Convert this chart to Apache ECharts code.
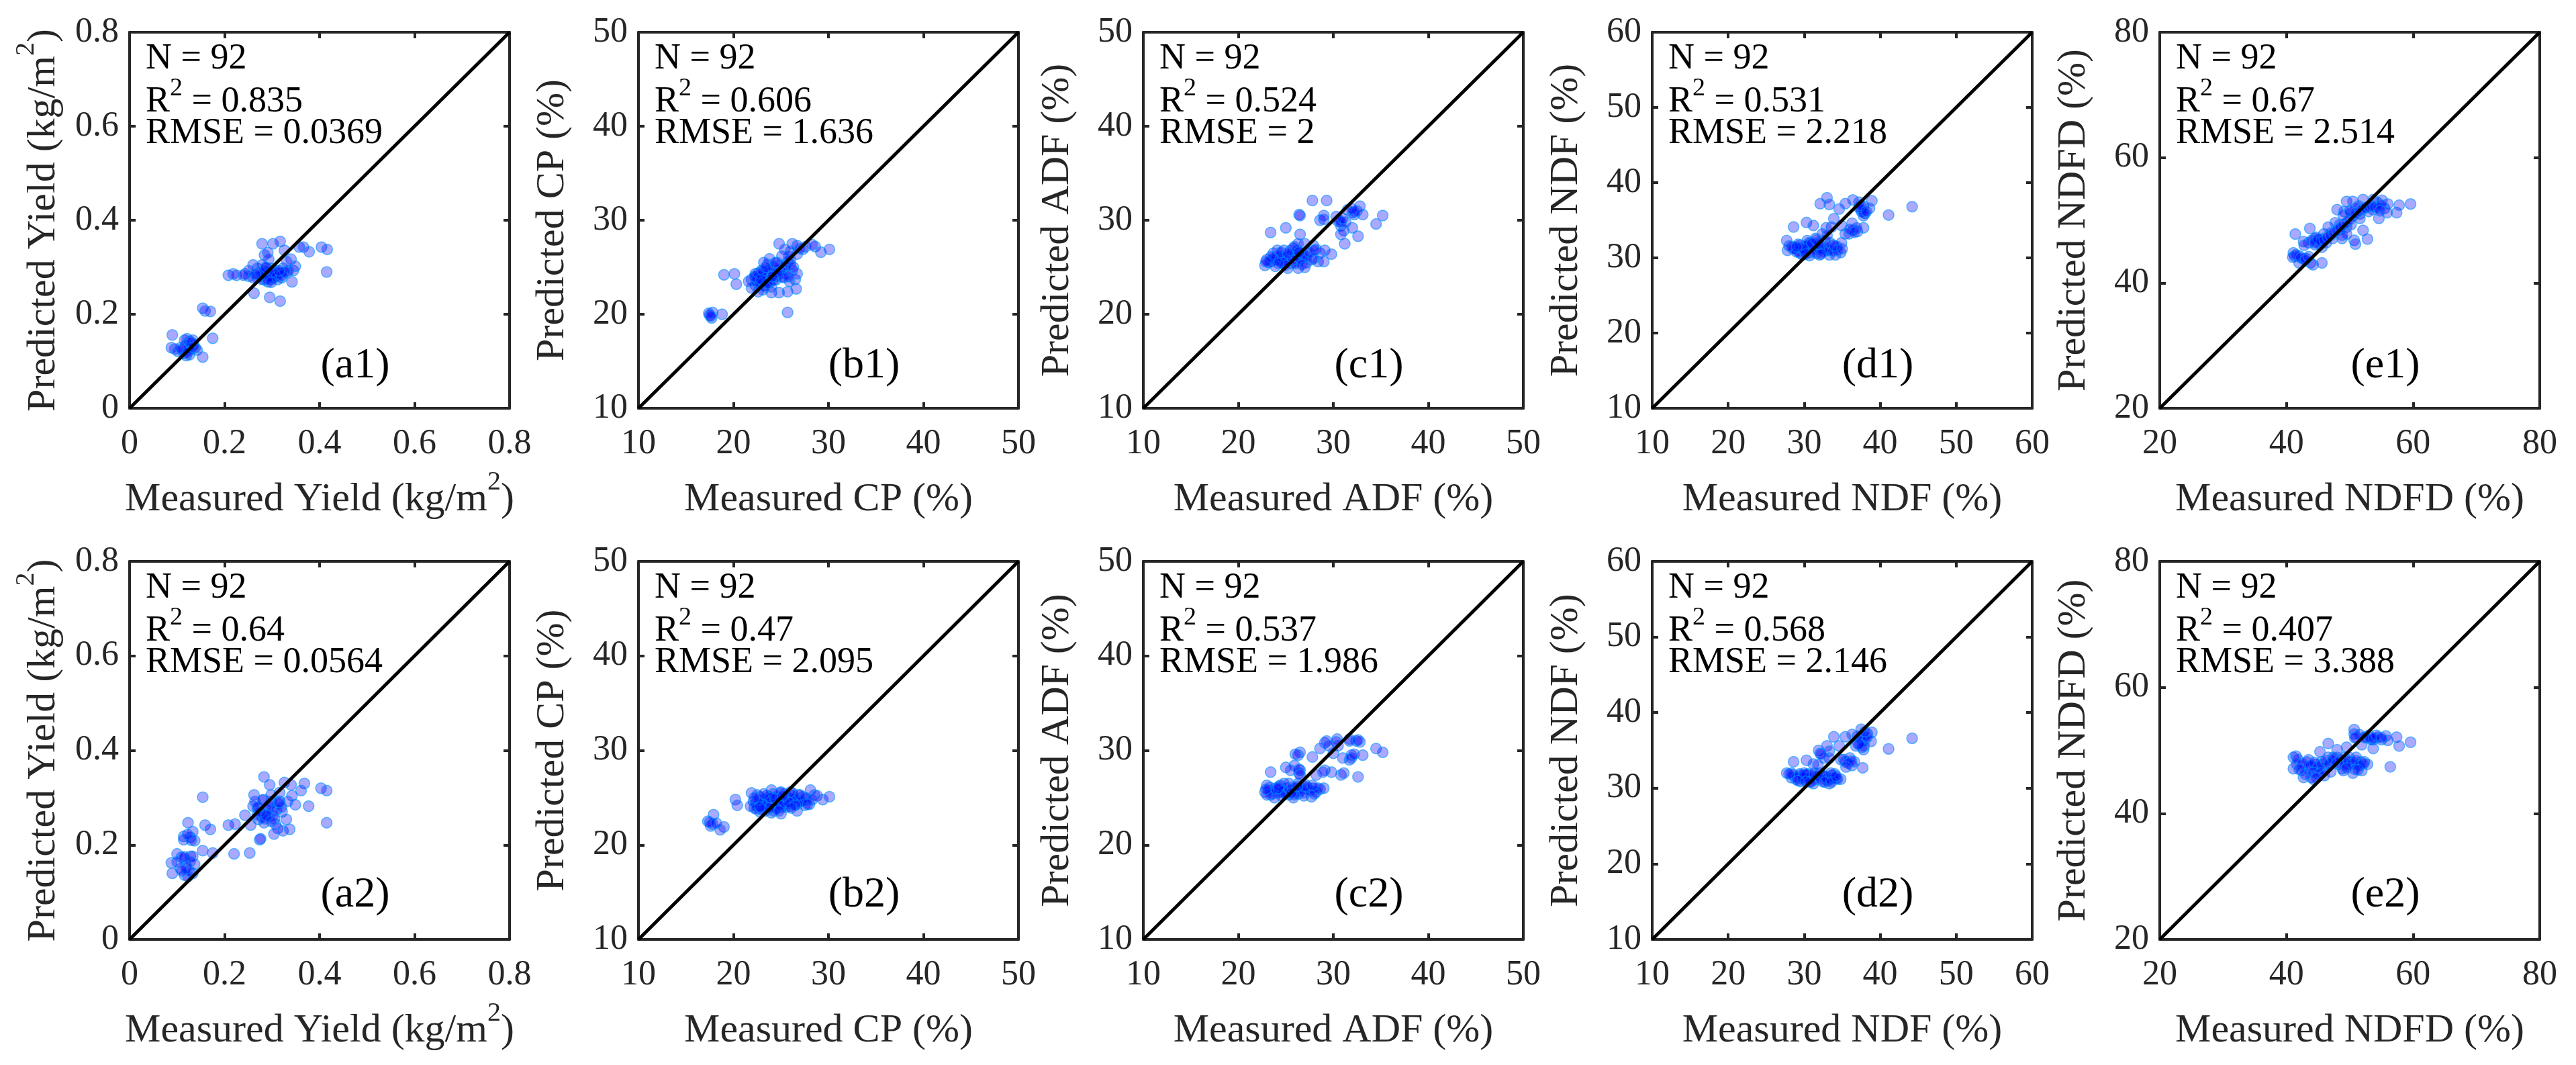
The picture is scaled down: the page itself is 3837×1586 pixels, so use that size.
<!DOCTYPE html>
<html>
<head>
<meta charset="utf-8">
<script src="https://cdn.jsdelivr.net/npm/echarts@6/dist/echarts.min.js"></script>
<style>
  html, body { margin: 0; padding: 0; background: #fff; }
  #chart { width: 3837px; height: 1586px; }
</style>
</head>
<body>
<div id="chart"></div>
<script>
// [measured, predicted] pairs. row 1 = "1" panels, row 2 = "2" panels
const yield1 = [
  [0.090,0.156],[0.088,0.129],[0.095,0.126],[0.102,0.121],[0.114,0.117],[0.119,0.112],
  [0.116,0.145],[0.121,0.148],[0.126,0.143],[0.133,0.145],[0.135,0.136],[0.138,0.129],
  [0.142,0.124],[0.128,0.126],[0.107,0.129],[0.126,0.114],[0.154,0.109],[0.175,0.149],
  [0.154,0.213],[0.159,0.207],[0.170,0.206],[0.208,0.283],[0.218,0.286],[0.225,0.283],
  [0.243,0.286],[0.251,0.281],[0.260,0.305],[0.262,0.245],[0.269,0.298],[0.269,0.278],
  [0.279,0.350],[0.284,0.274],[0.284,0.326],[0.291,0.331],[0.295,0.236],[0.302,0.350],
  [0.317,0.355],[0.317,0.228],[0.288,0.288],[0.298,0.283],[0.307,0.293],[0.317,0.288],
  [0.321,0.278],[0.326,0.336],[0.331,0.288],[0.340,0.317],[0.342,0.269],[0.345,0.293],
  [0.349,0.302],[0.357,0.343],[0.366,0.343],[0.378,0.333],[0.404,0.343],[0.416,0.338],
  [0.415,0.290],[0.274,0.283],[0.279,0.274],[0.288,0.298],[0.302,0.278],[0.312,0.274],
  [0.323,0.298],[0.335,0.293],[0.260,0.278],[0.251,0.293],[0.293,0.317],[0.279,0.305],
  [0.312,0.288],[0.331,0.312],[0.298,0.274],[0.291,0.269],[0.298,0.298],
  [0.118,0.135],[0.125,0.128],[0.130,0.140],[0.110,0.125],[0.122,0.118],[0.135,0.130],
  [0.280,0.285],[0.295,0.280],[0.305,0.285],[0.285,0.293],[0.310,0.280],[0.300,0.290],
  [0.275,0.290],[0.290,0.275],[0.320,0.282],[0.265,0.285],[0.298,0.268],[0.327,0.290],
  [0.287,0.300],[0.240,0.283],[0.315,0.293]
];
const yield2 = [
  [0.090,0.140],[0.088,0.162],[0.100,0.181],[0.116,0.171],[0.116,0.136],[0.119,0.155],
  [0.128,0.176],[0.133,0.176],[0.133,0.140],[0.123,0.133],[0.137,0.159],[0.154,0.188],
  [0.175,0.183],[0.114,0.218],[0.123,0.247],[0.128,0.216],[0.133,0.228],[0.137,0.209],
  [0.159,0.242],[0.170,0.233],[0.154,0.301],[0.109,0.174],[0.107,0.150],[0.126,0.145],
  [0.100,0.164],[0.114,0.211],[0.208,0.242],[0.222,0.244],[0.220,0.181],[0.253,0.183],
  [0.243,0.263],[0.255,0.242],[0.274,0.211],[0.276,0.213],[0.283,0.344],[0.295,0.327],
  [0.326,0.332],[0.340,0.327],[0.368,0.330],[0.361,0.315],[0.403,0.320],[0.415,0.315],
  [0.415,0.247],[0.377,0.282],[0.349,0.285],[0.342,0.304],[0.262,0.306],[0.260,0.282],
  [0.269,0.278],[0.279,0.259],[0.289,0.263],[0.282,0.296],[0.298,0.292],[0.312,0.287],
  [0.316,0.292],[0.321,0.270],[0.330,0.254],[0.307,0.244],[0.312,0.235],[0.304,0.223],
  [0.323,0.230],[0.337,0.233],[0.302,0.263],[0.292,0.282],[0.271,0.254],[0.283,0.247],
  [0.264,0.292],[0.316,0.311],[0.333,0.292],[0.269,0.263],[0.298,0.306],
  [0.120,0.150],[0.110,0.145],[0.128,0.165],[0.115,0.175],[0.130,0.210],[0.122,0.222],
  [0.280,0.265],[0.290,0.275],[0.300,0.270],[0.285,0.255],[0.295,0.285],[0.310,0.275],
  [0.275,0.270],[0.305,0.255],[0.320,0.280],[0.288,0.262],[0.298,0.250],[0.315,0.290],
  [0.270,0.280],[0.280,0.295]
];
const cp1 = [
  [17.5,19.9],[17.8,20.2],[17.7,19.6],[18.8,20.0],[17.4,20.1],[19.0,24.2],[20.1,24.3],
  [20.3,23.2],[25.7,20.2],[24.8,27.5],[26.2,27.5],[26.7,27.3],[27.6,27.2],[28.6,27.2],
  [29.2,26.6],[30.1,26.9],[25.4,26.9],[25.1,26.2],[25.7,25.6],[26.7,26.4],[23.8,25.9],
  [23.6,25.3],[23.2,25.5],[23.0,24.7],[22.4,24.0],[21.9,23.7],[22.3,23.1],[21.9,22.8],
  [22.6,22.4],[22.9,23.5],[23.5,24.0],[24.2,24.3],[24.8,24.7],[25.4,25.0],[26.0,25.3],
  [26.2,24.7],[25.5,24.3],[25.1,24.0],[24.5,23.7],[23.8,23.4],[23.2,23.1],[22.6,23.2],
  [23.1,22.6],[24.0,22.3],[24.8,22.3],[25.7,22.4],[26.6,22.7],[26.5,23.7],[25.9,23.5],
  [24.0,22.9],[21.6,23.5],[22.3,24.3],[24.2,25.0],[24.6,25.5],[26.0,26.7],[27.3,26.9],
  [28.3,27.4],[23.7,23.5],[22.9,24.0],[22.4,23.5],[24.9,24.3],[26.7,24.3],
  [22.5,23.8],[23.0,24.2],[23.5,23.9],[24.0,24.5],[24.5,24.0],[22.8,23.3],[23.3,22.9],
  [24.2,23.6],[25.0,24.6],[25.5,25.2],[22.2,24.0],[23.8,24.8],[24.8,25.2],[25.3,23.9],
  [23.6,23.3],[22.6,24.4],[26.0,25.8],[25.8,26.2],[17.6,19.8],[24.4,25.5],[23.1,24.6],
  [22.9,23.7],[24.6,24.4],[25.8,24.0],[23.4,25.0],[24.1,24.0],[26.3,25.0],[27.0,27.0]
];
const cp2 = [
  [17.3,22.5],[17.9,23.2],[17.6,22.0],[19.0,21.9],[18.6,21.6],[17.8,22.2],[20.2,24.8],
  [20.4,24.2],[21.9,25.5],[22.2,23.9],[22.1,24.6],[22.5,25.3],[22.5,24.1],[22.8,23.5],
  [23.2,24.8],[24.0,25.8],[23.7,24.1],[24.0,23.4],[24.2,24.8],[24.7,24.3],[24.9,25.5],
  [25.1,24.0],[25.6,25.1],[25.9,24.1],[26.2,25.5],[26.6,24.3],[26.7,23.6],[26.8,25.3],
  [27.3,25.1],[27.5,24.2],[27.7,24.8],[28.1,25.8],[28.5,25.3],[28.8,25.2],[29.4,24.8],
  [30.1,25.1],[23.0,24.2],[23.5,24.5],[24.6,25.1],[25.4,24.6],[26.1,24.7],[27.0,24.6],
  [28.0,24.3],[21.8,24.1],[22.8,25.1],[23.8,25.1],[25.3,25.4],[25.0,23.3],[24.2,23.6],
  [23.4,23.6],
  [22.3,24.4],[22.6,24.8],[23.0,24.5],[23.3,24.0],[23.6,24.6],[24.0,24.4],[24.3,24.0],
  [24.6,24.6],[25.0,24.8],[25.3,24.3],[25.7,24.9],[26.0,24.4],[26.4,24.9],[26.8,24.5],
  [27.2,24.6],[22.4,23.8],[23.0,23.7],[24.5,23.8],[25.5,24.0],[26.3,25.2],[27.6,25.0],
  [22.2,25.0],[23.5,25.2],[24.2,25.4],[25.0,25.6],[26.0,25.6],[27.0,25.3],[28.3,24.8],
  [17.5,22.4],[18.2,22.3],[23.8,23.9],[24.9,24.2],[25.8,24.5],[22.8,24.0],[23.9,25.0],
  [24.4,24.9],[26.5,24.2],[27.8,24.3],[23.2,25.4],[24.8,23.6],[25.2,25.2],[26.1,23.9]
];
const adf1 = [
  [23.4,28.7],[25.0,29.2],[26.5,28.5],[26.4,30.6],[26.5,30.5],[27.8,32.1],[29.3,32.1],
  [28.6,30.0],[29.0,30.5],[29.0,30.1],[30.3,30.4],[30.5,29.9],[30.8,29.4],[31.1,28.9],
  [30.8,28.5],[31.2,27.5],[31.5,31.1],[32.0,30.8],[32.2,30.6],[32.8,31.5],[33.1,30.6],
  [32.0,29.2],[32.6,28.3],[34.5,29.6],[35.2,30.5],[23.0,25.8],[22.8,25.2],[23.4,25.6],
  [23.7,26.5],[23.9,25.8],[24.4,26.1],[24.6,25.5],[24.8,26.8],[25.2,24.9],[25.3,26.1],
  [25.8,27.0],[26.0,26.3],[26.3,25.6],[26.3,24.9],[26.7,26.0],[27.0,27.5],[27.2,26.5],
  [27.7,25.8],[27.9,27.3],[28.4,25.6],[28.6,26.5],[29.0,25.6],[29.1,26.8],[29.8,26.4],
  [26.3,27.5],[24.1,26.8],[25.6,25.4],[27.2,25.5],[28.2,26.9],[24.8,25.4],[23.9,25.1],
  [26.5,26.5],[26.0,25.4],
  [23.2,25.5],[23.6,25.9],[24.0,26.2],[24.3,25.7],[24.7,26.0],[25.0,25.6],[25.4,26.3],
  [25.7,25.8],[26.1,26.2],[26.5,25.9],[26.8,26.4],[27.2,26.1],[27.5,26.6],[24.5,26.6],
  [25.5,26.8],[26.2,26.8],[23.4,26.1],[24.9,25.2],[26.7,25.3],[27.9,25.9],[30.6,30.0],
  [30.8,29.8],[32.2,30.9],[32.5,31.0],[31.3,29.8],[25.9,27.2],[28.0,26.8],[24.2,25.4],
  [26.4,26.6],[22.9,25.6],[27.0,25.0],[25.2,26.5],[31.0,30.2],[32.0,31.2]
];
const adf2 = [
  [23.4,27.7],[25.0,28.2],[26.5,29.8],[26.3,29.5],[26.5,27.9],[26.4,27.6],[25.9,28.4],
  [27.8,29.3],[28.6,30.2],[29.1,30.8],[29.3,31.0],[30.4,31.2],[30.0,29.7],[30.5,30.5],
  [31.7,31.2],[32.4,31.0],[32.8,30.9],[31.0,29.2],[31.7,29.0],[31.9,29.5],[33.1,29.5],
  [34.5,30.2],[35.2,29.8],[28.2,27.4],[29.1,27.9],[29.8,27.7],[30.8,27.4],[31.1,27.6],
  [32.6,27.2],[23.0,26.3],[22.8,25.6],[23.4,25.3],[23.8,25.0],[23.9,26.0],[24.4,26.3],
  [24.6,25.6],[25.1,26.0],[25.3,25.3],[25.8,25.0],[26.0,26.0],[26.3,25.4],[26.6,25.8],
  [27.0,26.4],[27.3,25.9],[27.7,25.1],[28.2,25.6],[28.6,25.9],[29.0,26.0],[27.9,26.0],
  [24.8,26.5],[25.3,26.5],[24.1,25.5],[26.3,26.5],[26.9,25.2],[23.3,26.1],
  [23.2,25.8],[23.6,25.4],[24.0,25.9],[24.3,26.2],[24.7,25.7],[25.0,25.4],[25.4,25.8],
  [25.7,26.1],[26.1,25.6],[26.5,25.9],[26.9,25.5],[27.3,26.1],[27.6,25.7],[28.0,25.4],
  [23.0,25.3],[24.5,25.2],[25.9,25.3],[27.0,26.2],[28.4,26.0],[26.4,28.0],[26.5,27.4],
  [31.9,29.2],[32.2,29.6],[30.3,30.9],[29.5,30.5],[26.0,29.6],[24.2,26.0],[25.6,25.5],
  [27.8,26.3],[22.9,25.9],[26.2,26.2],[31.7,31.0],[32.6,31.1],[25.5,27.9],[28.9,27.7]
];
const ndf1 = [
  [33.0,38.0],[32.1,37.2],[33.3,37.1],[34.6,36.5],[35.4,37.2],[36.4,37.7],[37.2,37.4],
  [37.8,36.9],[38.9,37.6],[38.6,36.6],[37.5,36.2],[38.0,35.9],[37.8,35.6],[41.1,35.7],
  [44.2,36.8],[28.6,34.1],[30.3,34.7],[31.2,34.3],[33.9,35.2],[33.6,34.1],[32.9,34.0],
  [34.9,34.3],[35.4,33.2],[36.3,34.6],[36.4,33.7],[37.0,33.5],[37.8,34.0],[35.9,33.2],
  [27.7,32.3],[27.8,31.0],[28.4,31.5],[29.2,30.9],[29.5,31.7],[29.8,30.4],[30.4,32.3],
  [30.4,31.2],[30.7,30.3],[31.2,31.5],[31.5,32.6],[32.0,30.4],[32.1,31.7],[32.4,33.2],
  [32.7,32.3],[33.0,31.0],[33.3,30.4],[33.8,31.7],[34.1,30.4],[34.3,31.5],[34.8,30.7],
  [34.9,32.0],[30.9,32.0],[30.0,31.5],[32.4,31.2],[31.8,32.0],[29.5,30.6],[28.7,31.3],
  [28.5,31.2],[29.0,30.8],[29.6,31.3],[30.0,30.9],[30.3,31.6],[30.8,30.7],[31.2,31.1],
  [31.6,30.6],[32.0,31.2],[32.5,30.8],[32.9,31.4],[33.3,31.0],[33.8,30.9],[34.4,31.0],
  [29.2,31.8],[30.6,32.0],[31.9,31.8],[33.4,32.0],[28.0,31.6],[37.5,36.4],[37.8,36.0],
  [37.2,36.7],[36.9,34.0],[36.0,33.8],[31.0,31.9],[32.2,30.5],[29.9,31.2],[30.2,30.5],
  [34.0,31.6],[35.0,31.2],[37.4,37.0],[38.2,36.2],[36.6,33.4],[33.0,33.0],[31.6,32.4],
  [29.0,31.5]
];
const ndf2 = [
  [28.6,33.5],[30.3,33.7],[31.2,33.2],[27.7,32.0],[28.3,31.4],[28.9,31.2],[29.5,30.9],
  [30.1,31.7],[30.5,31.9],[30.9,30.9],[31.5,31.5],[32.1,32.0],[32.4,30.9],[32.9,31.5],
  [33.3,30.6],[33.6,31.7],[34.2,31.3],[34.8,31.2],[29.5,31.7],[31.2,30.6],[31.9,35.0],
  [32.1,34.6],[33.0,35.6],[33.3,34.9],[33.3,34.0],[34.6,35.6],[33.9,36.8],[34.8,33.8],
  [35.4,33.5],[36.0,34.0],[36.3,33.0],[36.6,33.5],[37.7,32.7],[35.4,36.8],[36.3,37.1],
  [37.5,37.8],[37.8,36.8],[38.3,37.2],[38.9,37.4],[38.8,36.2],[37.1,35.9],[37.8,35.1],
  [38.0,36.4],[41.1,35.2],[44.2,36.6],[29.9,31.2],[30.7,31.2],[32.4,31.7],[33.1,31.0],
  [34.0,31.9],[28.3,32.0],[36.8,35.6],
  [28.5,31.8],[29.0,31.4],[29.4,31.9],[29.8,31.4],[30.3,31.8],[30.6,31.3],[31.0,31.7],
  [31.4,31.1],[31.8,31.6],[32.2,31.2],[32.6,31.6],[33.0,31.3],[33.5,31.2],[33.9,31.4],
  [34.4,31.2],[28.0,31.9],[29.2,31.0],[30.8,30.8],[32.7,30.8],[31.3,32.0],[37.4,36.6],
  [37.6,36.2],[37.9,35.6],[37.0,36.9],[37.6,35.4],[32.6,34.0],[32.2,34.5],[35.2,33.8],
  [35.8,33.3],[30.0,32.0],[33.5,32.0],[36.2,33.6],[31.8,33.1],[33.6,30.8],[30.2,30.9],
  [38.3,36.8],[38.0,37.5],[37.2,35.8],[34.2,31.6],[35.5,32.8]
];
const ndfd1 = [
  [41.4,47.8],[41.1,44.8],[41.3,44.3],[41.0,44.1],[42.0,43.2],[42.7,43.8],[43.8,43.2],
  [44.2,42.9],[45.6,43.2],[42.7,46.6],[43.7,48.7],[43.5,46.4],[44.5,47.1],[45.2,46.8],
  [45.6,45.7],[45.9,47.8],[46.6,48.9],[47.3,47.1],[47.7,49.6],[48.4,48.5],[48.8,47.1],
  [49.5,48.9],[50.2,49.3],[50.7,46.8],[50.9,46.2],[52.1,48.4],[52.8,47.0],[48.0,51.7],
  [49.1,51.4],[49.5,53.0],[50.5,53.0],[50.9,51.9],[51.6,51.0],[52.1,53.3],[52.7,52.1],
  [53.7,53.3],[54.4,52.8],[55.1,53.2],[55.5,51.9],[56.0,52.6],[54.6,50.3],[53.7,51.7],
  [53.0,51.4],[57.4,51.2],[57.8,52.4],[59.6,52.6],[55.9,51.2],[45.0,46.4],[46.3,46.4],
  [44.7,47.3],[48.8,47.6],[49.5,47.8],[50.2,51.2],[51.4,52.3],[47.0,48.0],[48.4,49.3],
  [43.1,43.9],[42.0,44.3],[51.6,50.3],[44.5,46.1],[45.9,47.1],
  [44.0,46.8],[44.5,46.4],[45.0,47.0],[45.5,46.6],[46.0,46.8],[46.5,47.3],[47.0,47.6],
  [47.5,48.0],[48.0,48.4],[48.5,48.8],[49.0,49.3],[49.5,49.6],[50.0,50.1],[50.5,50.6],
  [51.0,51.1],[51.5,51.5],[52.0,51.8],[52.5,52.0],[53.0,52.2],[53.5,52.3],[54.0,52.1],
  [54.5,52.0],[55.0,52.4],[41.5,44.5],[42.3,44.0],[43.0,43.6],[43.5,44.2],[42.8,46.0],
  [49.0,50.8],[50.0,51.5],[54.8,51.5]
];
const ndfd2 = [
  [41.1,48.9],[41.5,49.1],[41.1,47.1],[41.6,47.8],[42.7,45.7],[42.4,46.8],[43.5,48.5],
  [43.5,47.1],[43.9,45.7],[44.3,45.4],[44.5,47.8],[44.9,46.8],[45.3,49.8],[45.5,48.2],
  [45.9,47.1],[46.6,51.1],[46.6,48.9],[47.4,48.2],[48.0,50.1],[48.0,48.9],[48.2,47.8],
  [48.8,47.1],[49.0,46.8],[49.5,50.5],[49.9,48.9],[50.3,48.2],[50.5,46.4],[51.0,48.9],
  [51.7,48.2],[51.9,46.8],[52.3,48.2],[52.8,47.8],[50.7,53.3],[50.7,52.6],[51.0,52.1],
  [51.9,50.9],[52.3,52.1],[53.0,52.4],[53.7,51.7],[53.7,50.3],[54.4,52.1],[55.0,51.7],
  [55.7,52.3],[56.0,51.6],[57.4,52.1],[57.8,50.7],[59.6,51.3],[56.4,47.4],[44.0,47.5],
  [46.6,47.5],[49.5,47.8],[51.3,47.7],[42.5,47.5],[45.1,46.1],[49.2,48.9],[47.4,48.9],
  [53.4,51.7],
  [41.8,48.6],[42.5,47.9],[43.2,48.2],[43.8,47.6],[44.4,48.1],[45.0,47.4],[45.6,47.8],
  [46.2,48.4],[46.8,47.9],[47.4,48.6],[48.0,48.0],[48.6,48.5],[49.2,47.6],[49.8,48.3],
  [50.4,47.9],[51.0,48.4],[51.6,47.6],[52.2,47.9],[43.0,46.2],[44.2,46.5],[45.4,46.4],
  [50.8,47.0],[51.3,46.9],[52.5,52.0],[53.2,52.0],[53.8,51.9],[54.2,52.4],[55.0,52.0],
  [51.5,52.5],[50.8,52.0],[49.5,47.2],[47.0,46.6],[46.0,46.0],[44.7,45.6],[42.0,47.0]
];

// per-column axis setup
const axisMin = [0, 10, 10, 10, 20];
const axisMax = [0.8, 50, 50, 60, 80];
const axisStep = [0.2, 10, 10, 10, 20];
const measuredName = [
  '{t|Measured Yield (kg/m}{s|2}{t|)}', '{t|Measured CP (%)}', '{t|Measured ADF (%)}',
  '{t|Measured NDF (%)}', '{t|Measured NDFD (%)}'
];
const predictedName = [
  '{t|Predicted Yield (kg/m}{s|2}{t|)}', '{t|Predicted CP (%)}', '{t|Predicted ADF (%)}',
  '{t|Predicted NDF (%)}', '{t|Predicted NDFD (%)}'
];

// statistics printed in each panel, by row
const sampleN = 92;
const r2 = [
  ['0.835', '0.606', '0.524', '0.531', '0.67'],
  ['0.64', '0.47', '0.537', '0.568', '0.407']
];
const rmse = [
  ['0.0369', '1.636', '2', '2.218', '2.514'],
  ['0.0564', '2.095', '1.986', '2.146', '3.388']
];
const panelTag = [
  ['(a1)', '(b1)', '(c1)', '(d1)', '(e1)'],
  ['(a2)', '(b2)', '(c2)', '(d2)', '(e2)']
];
const panelData = [
  [yield1, cp1, adf1, ndf1, ndfd1],
  [yield2, cp2, adf2, ndf2, ndfd2]
];

const chart = echarts.init(document.getElementById('chart'));
const FONT = 'Liberation Serif';
const INK = '#262626';

// layout (pixels)
const colLeft = [193, 951, 1703, 2461, 3217];
const rowTop = [48, 836];
const rowHeight = [560, 563];
const boxWidth = 566;

function nameRich() {
  return {
    t: { fontFamily: FONT, fontSize: 60, color: INK, verticalAlign: 'bottom' },
    s: { fontFamily: FONT, fontSize: 40, color: INK, verticalAlign: 'bottom', padding: [0, 0, 36, 0] }
  };
}

function makeAxis(c, gridIndex, position, withLabels) {
  const isX = position === 'bottom' || position === 'top';
  const ax = {
    gridIndex: gridIndex,
    type: 'value',
    position: position,
    min: axisMin[c],
    max: axisMax[c],
    interval: axisStep[c],
    axisLine: { show: true, onZero: false, lineStyle: { color: INK, width: 4 } },
    axisTick: { show: true, inside: true, length: 9, lineStyle: { color: INK, width: 4 } },
    splitLine: { show: false },
    axisLabel: {
      show: withLabels,
      fontFamily: FONT,
      fontSize: 52,
      color: INK,
      margin: isX ? 27 : 16
    }
  };
  if (withLabels) {
    ax.name = isX ? measuredName[c] : predictedName[c];
    ax.nameLocation = 'middle';
    ax.nameMoveOverlap = false;
    ax.nameGap = isX ? (c === 0 ? 90 : 106) : 98;
    ax.nameTextStyle = { rich: nameRich() };
  }
  return ax;
}

const grids = [], xAxes = [], yAxes = [], series = [], texts = [];

for (let r = 0; r < 2; r++) {
  for (let c = 0; c < 5; c++) {
    const g = r * 5 + c;
    const L = colLeft[c], T = rowTop[r];
    grids.push({
      left: L, top: T, width: boxWidth, height: rowHeight[r],
      containLabel: false, outerBoundsMode: 'none'
    });
    xAxes.push(makeAxis(c, g, 'bottom', true));
    xAxes.push(makeAxis(c, g, 'top', false));
    yAxes.push(makeAxis(c, g, 'left', true));
    yAxes.push(makeAxis(c, g, 'right', false));

    series.push({
      type: 'scatter',
      xAxisIndex: 2 * g,
      yAxisIndex: 2 * g,
      data: panelData[r][c],
      symbol: 'circle',
      symbolSize: 16,
      itemStyle: {
        color: 'rgba(0,0,255,0.42)',
        borderColor: 'rgba(0,150,255,0.75)',
        borderWidth: 1.5
      },
      emphasis: { disabled: true },
      z: 2
    });
    // 1:1 line
    series.push({
      type: 'line',
      xAxisIndex: 2 * g,
      yAxisIndex: 2 * g,
      data: [[axisMin[c], axisMin[c]], [axisMax[c], axisMax[c]]],
      symbol: 'none',
      lineStyle: { color: '#000', width: 5 },
      silent: true,
      z: 3
    });

    const stat = { fontSize: 54, fontFamily: FONT, fill: '#000' };
    texts.push({
      type: 'text', x: L + 24, y: T + 67, silent: true,
      style: Object.assign({ text: 'N = ' + sampleN, align: 'left', verticalAlign: 'bottom' }, stat)
    });
    texts.push({
      type: 'text', x: L + 24, y: T + 131, silent: true,
      style: {
        text: '{t|R}{s|2}{t| = ' + r2[r][c] + '}',
        align: 'left', verticalAlign: 'bottom',
        rich: {
          t: { fontSize: 54, fontFamily: FONT, fill: '#000', verticalAlign: 'bottom' },
          s: { fontSize: 38, fontFamily: FONT, fill: '#000', verticalAlign: 'bottom', padding: [0, 0, 28, 0] }
        }
      }
    });
    texts.push({
      type: 'text', x: L + 24, y: T + 178, silent: true,
      style: Object.assign({ text: 'RMSE = ' + rmse[r][c], align: 'left', verticalAlign: 'bottom' }, stat)
    });
    texts.push({
      type: 'text', x: L + 336, y: T + 497, silent: true,
      style: { text: panelTag[r][c], align: 'center', verticalAlign: 'middle', fontSize: 64, fontFamily: FONT, fill: '#000' }
    });
  }
}

chart.setOption({
  animation: false,
  backgroundColor: '#fff',
  grid: grids,
  xAxis: xAxes,
  yAxis: yAxes,
  series: series,
  graphic: texts
});
</script>
</body>
</html>
